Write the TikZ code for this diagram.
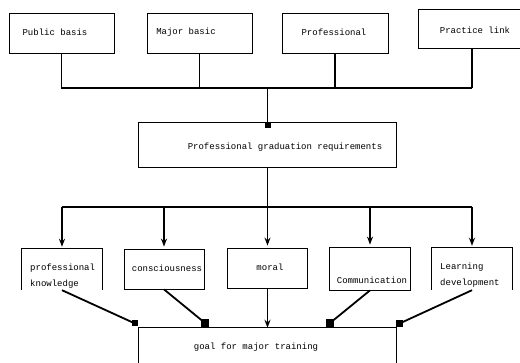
\documentclass[tikz,border=0pt]{standalone}
\usepackage{fontspec}
\setmonofont{Liberation Mono}
\usetikzlibrary{arrows.meta,calc}
\begin{document}
\begin{tikzpicture}[x=1pt,y=-1pt,
  box/.style={draw, line width=0.8pt, inner sep=0pt},
  frame/.style={inner sep=0pt},
  edge3/.style={line width=0.8pt},
  lbl/.style={font=\ttfamily\fontsize{9}{16}\selectfont, inner sep=0pt},
  conn/.style={line width=1.8pt},
  arr/.style={line width=1.6pt, -{Stealth[length=8pt,width=6pt]}},
  sq/.style={fill=black, inner sep=0pt, minimum size=#1},
  sq/.default=6pt]
\useasboundingbox (0,0) rectangle (520,363);

% top row
\node[box, minimum width=105pt, minimum height=40pt] (pbB) at (61.5,33) {};
\node[lbl] (pb) at (55,32) {Public basis};
\node[box, minimum width=105pt, minimum height=40pt] (mbB) at (199.5,33) {};
\node[lbl] (mb) at (186,32) {Major basic};
\node[box, minimum width=106pt, minimum height=40pt] (prB) at (335,33) {};
\node[lbl] (pr) at (334,32) {Professional};
\node[frame, minimum width=106pt, minimum height=38pt] (plB) at (472,29) {};
\draw[edge3] (plB.north east) -| (plB.south west) -- (plB.south east);
\node[lbl] (pl) at (475,30) {Practice link};

% middle
\node[box, minimum width=258pt, minimum height=45pt] (midB) at (267.5,144.5) {};
\node[lbl] (mid) at (285,147) {Professional graduation requirements};

\coordinate (j1) at (267.5,88);
\draw[conn] (pbB.south) |- (plB.south |- j1);
\draw[conn] (mbB.south) -- (mbB.south |- j1);
\draw[conn] (prB.south) -- (prB.south |- j1);
\draw[conn] (plB.south) -- (plB.south |- j1);
\draw[conn] (j1) -- (j1 |- midB.north);
\node[sq, anchor=north] (s0) at (j1 |- midB.north) {};

% bottom row
\node[frame, minimum width=80pt, minimum height=41pt] (pkB) at (62,269.5) {};
\draw[edge3] (pkB.south west) |- (pkB.north east) -- (pkB.south east);
\node[lbl, align=left, anchor=west] (pk) at (30,276) {professional\\knowledge};

\node[box, minimum width=80pt, minimum height=40pt] (csB) at (164,269) {};
\node[lbl] (cs) at (167,268) {consciousness};

\node[box, minimum width=80pt, minimum height=40pt] (mB) at (267.5,268) {};
\node[lbl] (mo) at (270,267) {moral};

\node[box, minimum width=81pt, minimum height=43pt] (cmB) at (370,268.5) {};
\node[lbl] (cm) at (372,280) {Communication};

\node[frame, minimum width=80pt, minimum height=42pt] (ldB) at (472,269) {};
\draw[edge3] (ldB.south west) |- (ldB.north east) -- (ldB.south east);
\node[lbl, align=left, anchor=west] (ld) at (440,275) {Learning\\development};

% goal
\node[frame, minimum width=258pt, minimum height=50pt] (gB) at (267.5,353) {};
\draw[edge3] (gB.south west) |- (gB.north east) -- (gB.south east);
\node[lbl] (g) at (256,347) {goal for major training};

% distribution
\coordinate (j2) at (267.5,207);
\draw[conn] (midB.south) -- (j2);
\draw[conn] (pkB.north |- j2) -- (ldB.north |- j2);
\foreach \n in {pkB,csB,mB,cmB,ldB}
  \draw[arr, shorten >=2pt] (\n.north |- j2) -- (\n.north);

% to goal
\node[sq=6pt] (q1) at (135,323.5) {};
\node[sq=8pt] (q2) at (205,323) {};
\node[sq=8pt] (q3) at (330,323) {};
\node[sq=7pt] (q4) at (399.5,323.5) {};
\draw[conn] (pkB.south) -- (q1.center);
\draw[conn] (csB.south) -- (q2.center);
\draw[arr] (mB.south) -- (mB.south |- gB.north);
\draw[conn] (cmB.south) -- (q3.center);
\draw[conn] (ldB.south) -- (q4.center);
\end{tikzpicture}
\end{document}
